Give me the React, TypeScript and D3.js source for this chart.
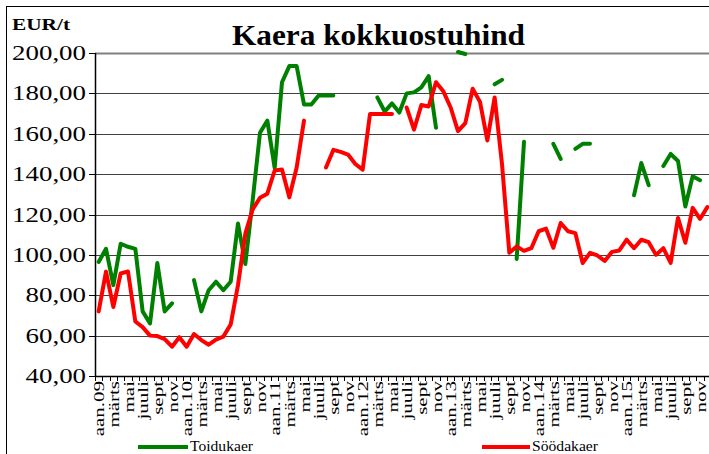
import React from "react";
import * as d3 from "d3";

const years = ["09", "10", "11", "12", "13", "14", "15"];
const monthLabels = ["aan.", "", "märts", "", "mai", "", "juuli", "", "sept", "", "nov", ""];

const toidukaer: (number | null)[] = [
  96.5, 103, 85, 105.5, 104, 103, 72, 66, 96, 72, 76, null,
  null, 87.5, 72, 82.5, 86.7, 82.5, 86.7, 115.5, 95.5, 127, 160.5, 166.5,
  143, 185.5, 193.5, 193.5, 174.5, 174.5, 179, 179, 179, null, null, null,
  null, null, 178, 171, 175, 170.5, 180, 180.5, 183, 188.5, 163, null,
  null, 200.5, 199.5, null, null, null, 184.5, 186.7, null, 98, 156, null,
  null, null, 155, 147.5, null, 152.5, 155, 155, null, null, null, null,
  null, 129.5, 145.5, 134.5, null, 144, 150, 146.5, 124, 139, 137, null,
];

const soodakaer: (number | null)[] = [
  72, 91.7, 74.2, 90.8, 91.8, 67, 64.2, 60, 59.8, 58.3, 54.5, 59.2,
  54.5, 60.8, 57.8, 55.5, 58, 59.5, 65.5, 85, 110.5, 122.5, 128.3, 130.3,
  141.8, 142.3, 128.5, 143.3, 166.5, null, null, 143.3, 152, 151, 149.7, 145,
  142.2, 169.8, 169.8, 169.8, 169.8, null, 173, 162, 174.2, 173.5, 185.5, 181,
  173, 161.3, 165.3, 182.3, 175.8, 156.7, 178, 145, 101, 104.2, 102, 103.3,
  111.7, 113, 103.5, 115.8, 111.7, 110.8, 96, 101, 99.7, 97, 101.5, 102.2,
  107.5, 103.3, 107.5, 106.3, 100, 103.3, 96, 118.3, 106, 123.3, 117.8, 123.7,
];

const yTicks = [40, 60, 80, 100, 120, 140, 160, 180, 200];
const seriesNames = ["Toidukaer", "Söödakaer"];

const W = 709;
const H = 454;
const fmt = (v: number) => v.toFixed(2).replace(".", ",");

export default function App() {
  const n = toidukaer.length;
  const idx = d3.range(n);
  const x = d3.scaleBand<number>().domain(idx).range([95, 711]).paddingInner(0).paddingOuter(0);
  const y = d3.scaleLinear().domain([40, 200]).range([376, 53]);
  const cx = (i: number) => (x(i) as number) + x.bandwidth() / 2;

  const line = d3
    .line<number | null>()
    .defined((d) => d != null)
    .x((_, i) => cx(i))
    .y((d) => y(d as number));

  const labels = idx
    .filter((i) => i % 2 === 0)
    .map((i) => {
      const m = i % 12;
      const yr = years[Math.floor(i / 12)];
      return { i, text: m === 0 ? monthLabels[0] + yr : monthLabels[m] };
    });

  const font = "'Liberation Serif', 'Times New Roman', serif";

  return (
    <svg
      width={W}
      height={H}
      style={{ position: "absolute", left: 0, top: 0, background: "#fff", fontFamily: font }}
    >
      <rect x={0} y={0} width={W} height={H} fill="#fff" />
      <rect x={6.5} y={6.5} width={W + 10} height={H + 10} fill="none" stroke="#000" strokeWidth={1} />
      {/* gridlines */}
      {yTicks.slice(1).map((t) => (
        <line
          key={t}
          x1={95}
          x2={711}
          y1={Math.round(y(t)) + 0.5}
          y2={Math.round(y(t)) + 0.5}
          stroke={t === 200 ? "#808080" : "#404040"}
          strokeWidth={t === 200 ? 2 : 1}
        />
      ))}
      {/* y ticks */}
      {yTicks.map((t) => (
        <line key={"yt" + t} x1={89} x2={95} y1={Math.round(y(t)) + 0.5} y2={Math.round(y(t)) + 0.5} stroke="#000" />
      ))}
      {/* axes */}
      <line x1={95.5} x2={95.5} y1={53} y2={376.5} stroke="#000" strokeWidth={1.5} />
      <line x1={95} x2={711} y1={376.5} y2={376.5} stroke="#000" strokeWidth={1.5} />
      {d3.range(n + 1).map((i) => {
        const xx = Math.round(95 + i * x.step()) + 0.5;
        return <line key={"xt" + i} x1={xx} x2={xx} y1={376} y2={381} stroke="#000" />;
      })}
      {/* y labels */}
      {yTicks.map((t) => (
        <text
          key={"yl" + t}
          transform={`translate(86, ${y(t) + 7}) scale(1.28, 1)`}
          textAnchor="end"
          fontSize={21}
          fill="#000"
        >
          {fmt(t)}
        </text>
      ))}
      {/* x labels */}
      {labels.map((l) => (
        <text
          key={"xl" + l.i}
          transform={`translate(${cx(l.i) + 5.5}, 381) rotate(-90) scale(1.5, 1)`}
          textAnchor="end"
          fontSize={14}
          fill="#000"
        >
          {l.text}
        </text>
      ))}
      {/* series */}
      <path d={line(toidukaer) || ""} fill="none" stroke="#008000" strokeWidth={4} strokeLinejoin="round" strokeLinecap="round" />
      <path d={line(soodakaer) || ""} fill="none" stroke="#ff0000" strokeWidth={4} strokeLinejoin="round" strokeLinecap="round" />
      {/* title */}
      <text x={232} y={45} fontSize={30} fontWeight="bold" textLength={293} lengthAdjust="spacingAndGlyphs" fill="#000">
        Kaera kokkuostuhind
      </text>
      <text x={12} y={30} fontSize={17} fontWeight="bold" textLength={58} lengthAdjust="spacingAndGlyphs" fill="#000">
        EUR/t
      </text>
      {/* legend */}
      <line x1={138} x2={188} y1={447} y2={447} stroke="#008000" strokeWidth={4} />
      <text x={190} y={451} fontSize={15} textLength={63} lengthAdjust="spacingAndGlyphs" fill="#000">
        {seriesNames[0]}
      </text>
      <line x1={482} x2={530} y1={447} y2={447} stroke="#ff0000" strokeWidth={4} />
      <text x={532} y={451} fontSize={15} textLength={66} lengthAdjust="spacingAndGlyphs" fill="#000">
        {seriesNames[1]}
      </text>
    </svg>
  );
}
